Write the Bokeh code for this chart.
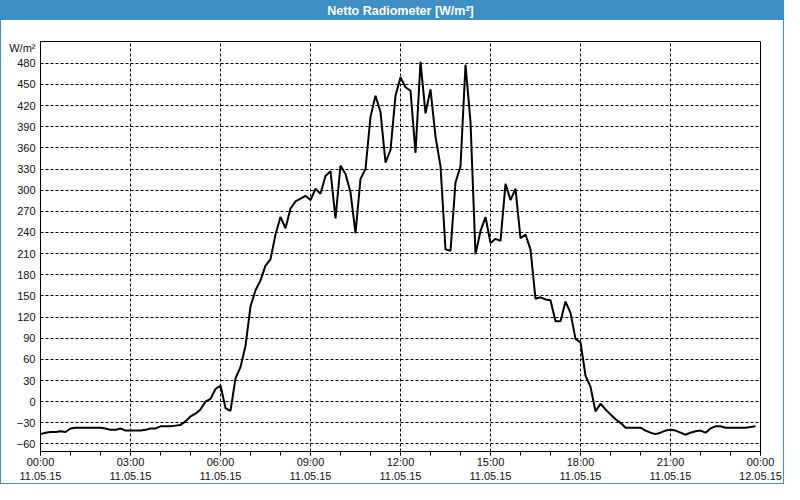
from bokeh.plotting import figure
from bokeh.models import FixedTicker, Range1d, LinearAxis
from bokeh.embed import file_html
from bokeh.resources import INLINE

# ---- data (10-minute readings, 11.05.15 00:00 .. 23:50) ----
step_minutes = 10
radiation_wm2 = [
    -46, -44, -43, -43, -42, -43, -38, -37, -37, -37, -37, -37,   # 00:00-01:50
    -37, -38, -40, -40, -38, -41, -41, -41, -41, -40, -38, -38,   # 02:00-03:50
    -35, -35, -35, -34, -33, -28, -21, -17, -11, 0, 4, 18,        # 04:00-05:50
    23, -9, -13, 33, 49, 79, 135, 158, 172, 193, 202, 237,        # 06:00-07:50
    262, 246, 274, 284, 288, 292, 286, 302, 295, 320, 327, 260,   # 08:00-09:50
    335, 323, 297, 239, 316, 330, 404, 434, 411, 339, 357, 434,   # 10:00-11:50
    460, 446, 441, 353, 482, 409, 443, 376, 334, 216, 214, 311,   # 12:00-13:50
    334, 478, 397, 209, 242, 262, 225, 231, 228, 309, 286, 302,   # 14:00-15:50
    232, 237, 216, 146, 148, 145, 144, 114, 114, 142, 126, 89,    # 16:00-17:50
    84, 37, 21, -14, -3, -11, -18, -25, -30, -37, -37, -37,       # 18:00-19:50
    -37, -41, -44, -46, -44, -41, -40, -41, -44, -47, -44, -42,   # 20:00-21:50
    -41, -44, -38, -35, -35, -37, -37, -37, -37, -37, -36, -35,   # 22:00-23:50
]
time_hours = [i * step_minutes / 60 for i in range(len(radiation_wm2))]

x_tick_hours = [0, 3, 6, 9, 12, 15, 18, 21, 24]
x_tick_labels = ["00:00\n11.05.15", "03:00\n11.05.15", "06:00\n11.05.15",
                 "09:00\n11.05.15", "12:00\n11.05.15", "15:00\n11.05.15",
                 "18:00\n11.05.15", "21:00\n11.05.15", "00:00\n12.05.15"]
x_minor_hours = list(range(0, 25))
y_ticks = [-60, -30, 0, 30, 60, 90, 120, 150, 180, 210, 240, 270,
           300, 330, 360, 390, 420, 450, 480]
title_text = "Netto Radiometer [W/m²]"
title_pos = 12         # centre of the time axis, where the header text sits
unit_text = "W/m²"
unit_label_pos = 502   # where the unit caption sits on the value axis

BLUE = "#3d8fc6"
FONT = "Liberation Sans"

p = figure(width=784, height=484, output_backend="svg", toolbar_location=None,
           x_range=Range1d(0, 24), y_range=Range1d(-70.7, 510.9),
           min_border_left=40, min_border_right=24,
           min_border_top=40, min_border_bottom=31)

p.styles = {
    "background": f"linear-gradient(to bottom, {BLUE} 0px, {BLUE} 20px, #ffffff 20px)",
    "box-shadow": f"inset 0 0 0 1px {BLUE}",
}
p.border_fill_color = None
p.background_fill_color = "white"
p.outline_line_color = "black"
p.outline_line_width = 1

xaxis = p.below[0]
yaxis = p.left[0]

# header text in the blue bar
head = LinearAxis(ticker=FixedTicker(ticks=[title_pos], minor_ticks=[]),
                  major_label_overrides={title_pos: title_text})
head.axis_line_color = None
head.major_tick_line_color = None
head.minor_tick_line_color = None
head.major_tick_in = 0
head.major_tick_out = 0
head.major_label_standoff = 24
head.major_label_text_color = "white"
head.major_label_text_font = FONT
head.major_label_text_font_style = "bold"
head.major_label_text_font_size = "12.5px"
p.add_layout(head, "above")

p.line(time_hours, radiation_wm2, line_color="black", line_width=2)

xt = FixedTicker(ticks=x_tick_hours, minor_ticks=x_minor_hours)
xaxis.ticker = xt
yaxis.ticker = FixedTicker(ticks=y_ticks + [unit_label_pos], minor_ticks=[])
xaxis.major_label_overrides = {h: lab for h, lab in zip(x_tick_hours, x_tick_labels)}
yaxis.major_label_overrides = {unit_label_pos: unit_text}
for ax in (xaxis, yaxis):
    ax.axis_line_color = "black"
    ax.major_label_text_font = FONT
    ax.major_label_text_font_size = "11px"
    ax.major_label_text_color = "#111111"
    ax.major_tick_in = 0
    ax.minor_tick_in = 0
    ax.major_tick_line_color = "black"
    ax.minor_tick_line_color = "black"
xaxis.major_tick_out = 4
xaxis.minor_tick_out = 4
xaxis.major_label_standoff = 0
yaxis.major_tick_out = 0
yaxis.minor_tick_out = 0
yaxis.major_label_standoff = 5

p.xgrid.ticker = xt
p.ygrid.ticker = FixedTicker(ticks=y_ticks, minor_ticks=[])
for g in (p.xgrid, p.ygrid):
    g.grid_line_color = "black"
    g.grid_line_dash = "3 2"
    g.grid_line_width = 1

open("out.html", "w").write(file_html(p, INLINE))
